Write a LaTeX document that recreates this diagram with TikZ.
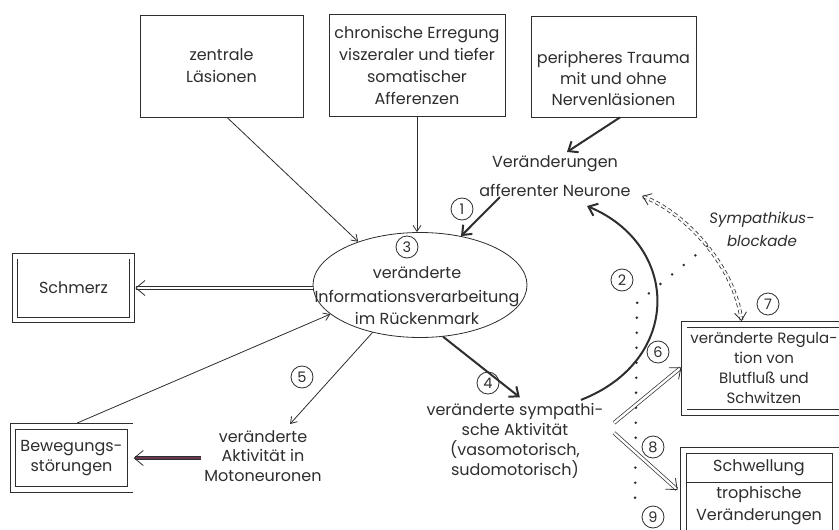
\documentclass[tikz,border=0pt]{standalone}
\usepackage{fontspec}
\setmainfont{Poppins}
\usetikzlibrary{arrows.meta,shapes.geometric,calc}
\definecolor{ink}{gray}{0.18}
\definecolor{wine}{RGB}{105,55,80}
\begin{document}
\begin{tikzpicture}[x=1pt,y=-1pt,
  every node/.style={font=\fontsize{16}{21}\selectfont, text=ink, align=center},
  box/.style={draw=ink, line width=0.8pt, rectangle, inner sep=0pt},
  dbox/.style={box, double, double distance=4.5pt},
  num/.style={circle, draw=ink, line width=0.8pt, minimum size=22pt, inner sep=0pt, font=\fontsize{14.5}{15}\selectfont},
  thinarr/.style={draw=ink, line width=0.8pt, -{Straight Barb[length=6pt,width=8pt]}},
  thickarr/.style={draw=ink, line width=2pt, -{Straight Barb[length=8pt,width=13pt]}},
  dblarr/.style={draw=ink, line width=0.7pt, double=white, double distance=2.4pt, -{Straight Barb[length=9pt,width=15pt,line width'=0.8pt]}},
  dashdbl/.style={draw=ink, line width=0.8pt, double=white, double distance=2pt, dash pattern=on 4pt off 3pt,
     {Straight Barb[length=8pt,width=12pt,line width'=0.8pt]}-{Straight Barb[length=8pt,width=12pt,line width'=0.8pt]}},
  dotline/.style={draw=ink, line width=2.8pt, line cap=round, dash pattern=on 0pt off 15pt},
]
\useasboundingbox (0,0) rectangle (839,530);
\clip (0,0) rectangle (839,530);
\fill[white] (0,0) rectangle (839,530);

% top boxes
\node[box, minimum width=163pt, minimum height=102pt, font=\fontsize{16}{22}\selectfont] (zl) at (221.5,66) {zentrale\\Läsionen};
\node[box, minimum width=176pt, minimum height=102pt, font=\fontsize{16}{22}\selectfont] (ce) at (417,65) {chronische Erregung\\viszeraler und tiefer\\somatischer\\Afferenzen};
\node[box, minimum width=165pt, minimum height=101pt] (pt) at (613.5,66.5) {\rule{0pt}{37pt}peripheres Trauma\\mit und ohne\\Nervenläsionen};

\node (van) at (555,176) {Veränderungen\\[8pt]afferenter Neurone};

% central ellipse
\node[ellipse, draw=ink, line width=0.8pt, minimum width=214pt, minimum height=105pt] (ell) at (420,285) {};
\node (ellt) at (417,296) {veränderte\\[3pt]Informationsverarbeitung\\[1pt]im Rückenmark};
\node[num] (n3) at (407,247) {3};

% left boxes
\node[dbox, minimum width=117pt, minimum height=63.5pt] (sch) at (73.5,288) {Schmerz};
\node[dbox, minimum width=117.5pt, minimum height=63pt, font=\fontsize{16}{20}\selectfont] (bew) at (71.5,458) {Bewegungs-\\störungen};

\node[font=\fontsize{16}{19.5}\selectfont] (mot) at (263,456) {veränderte\\Aktivität in\\Motoneuronen};
\node[num] (n5) at (302,377) {5};

\node[font=\fontsize{16}{20}\selectfont] (sym) at (515,441) {veränderte sympathi-\\sche Aktivität\\(vasomotorisch,\\sudomotorisch)};
\node[num] (n4) at (488,383) {4};
\node[num] (n1) at (462,209) {1};
\node[num] (n2) at (622,280) {2};

\node[font=\fontsize{15}{23}\selectfont\itshape] (sb) at (762,229) {Sympathikus-\\blockade};
\node[num] (n7) at (768,304) {7};

% right boxes
\node[dbox, double distance=5pt, minimum width=160pt, minimum height=88pt, font=\fontsize{15}{20}\selectfont] (reg) at (764,368.5) {veränderte Regula-\\tion von\\Blutfluß und\\Schwitzen};
\node[num] (n6) at (658,352) {6};

\node[box, minimum width=170pt, minimum height=100pt] (swo) at (765,497) {};
\node[box, minimum width=146pt, minimum height=92pt] (swi) at (759,499) {};
\draw[draw=ink, line width=0.8pt] (swi.west |- 0,482) -- (swi.east |- 0,482);
\node (swt) at (759,468) {Schwellung};
\node[font=\fontsize{16}{22}\selectfont] (trt) at (759,506) {trophische\\Veränderungen};
\node[num] (n8) at (653,447) {8};
\node[num] (n9) at (653,517) {9};

% dotted line
\draw[dotline] (707,246) -- (637,303) -- (635,505);

% connectors
\draw[thinarr] ($(zl.south)+(5.5,0)$) -- (ell.145);
\draw[thinarr] (ce.south) -- (ce.south |- ell.north);
\draw[thickarr] ($(pt.south)+(6.5,0)$) -- ($(van.north)+(12,0)$);
\draw[thickarr] ($(van.south west)+(24,-3)$) -- (ell.50);
\draw[thinarr] ($(bew.north)+(5.5,-3)$) -- (ell.198);
\draw[dblarr, shorten >=3pt] (ell.west |- sch.east) -- (sch.east);
\draw[thinarr, shorten >=4pt] (ell.225) -- (mot.50);
\draw[dblarr, double=wine, shorten >=3pt] (mot.west |- bew.east) -- (bew.east);
\draw[thickarr, shorten >=4pt] (ell.-66) -- ($(sym.north)+(8,0)$);
\draw[thickarr] ($(sym.north east)+(-26,0)$) .. controls (683,360) and (680,245) .. ($(van.south)+(32,6)$);
\draw[dashdbl, shorten >=3pt] ($(van.south east)+(8,-4)$) .. controls (690,215) and (735,270) .. ($(reg.north)+(-22,0)$);
\draw[dblarr, shorten >=3pt] ($(sym.north east)+(7,23)$) -- ($(reg.west)+(0,-3)$);
\draw[dblarr] ($(sym.north east)+(7,33)$) -- ($(swo.west)+(-2,-7)$);
\end{tikzpicture}
\end{document}
